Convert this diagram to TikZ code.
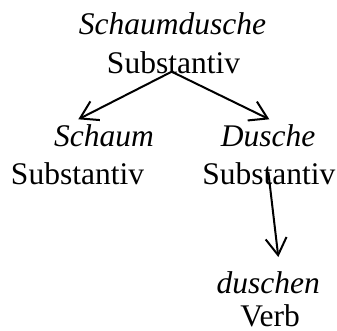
\documentclass[tikz,border=0pt]{standalone}
\usepackage{fontspec}
\setmainfont{Liberation Serif}
\usetikzlibrary{arrows.meta,calc}
\begin{document}
\begin{tikzpicture}[x=1pt,y=-1pt,
  lbl/.style={anchor=base,inner sep=0pt,font=\fontsize{31.5}{38}\selectfont},
  it/.style={lbl,font=\fontsize{31.5}{38}\selectfont\itshape},
  arr/.style={line width=2pt,-{Straight Barb[length=17pt,width=21pt,line width=2pt]}}]
\useasboundingbox (0,0) rectangle (337,331);
\node[it]  (t1) at (172.5,35) {Schaumdusche};
\node[lbl] (t2) at (173.5,74) {Substantiv};
\node[it]  (l1) at (104,146.7) {Schaum};
\node[lbl] (l2) at (77.5,185) {Substantiv};
\node[it]  (r1) at (268,146.7) {Dusche};
\node[lbl] (r2) at (268.8,185) {Substantiv};
\node[it]  (b1) at (268.3,293) {duschen};
\node[lbl] (b2) at (270,326) {Verb};
\coordinate (s0) at ($(t2.base)+(-1.8,-2.3)$);
\coordinate (lt) at ($(l1.base)+(-25.7,-27.4)$);
\coordinate (rt) at ($(r1.base)+(1.3,-27.4)$);
\coordinate (s1) at ($(r2.base)+(-0.5,-13)$);
\coordinate (bt) at ($(b1.base)+(10,-36)$);
\draw[arr] (s0) -- (lt);
\draw[arr] (s0) -- (rt);
\draw[arr] (s1) -- (bt);
\end{tikzpicture}
\end{document}
